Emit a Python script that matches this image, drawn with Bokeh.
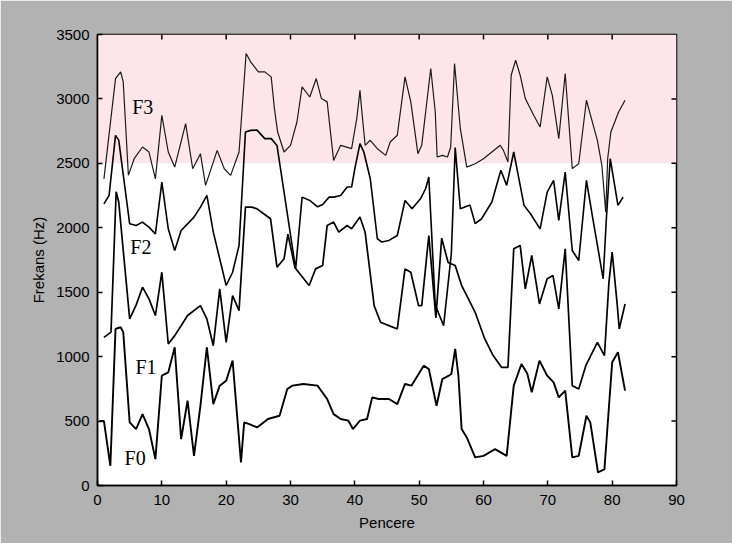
from bokeh.plotting import figure
from bokeh.models import FixedTicker, BoxAnnotation
from bokeh.core.properties import value
from bokeh.embed import file_html
from bokeh.resources import INLINE

# ---- data (x = Pencere, y = Frekans Hz) ----
f0_x = [0.3, 1.0, 2.0, 2.8, 3.6, 4.0, 5.0, 6.0, 7.0, 8.0, 9.0, 10.0, 11.0, 12.0, 13.0, 14.0,
        15.0, 16.0, 17.0, 18.0, 19.0, 20.0, 21.0, 22.3, 22.8, 23.6, 24.8, 26.5, 28.3, 29.5,
        30.3, 32.0, 34.2, 35.7, 36.7, 37.8, 39.0, 39.7, 40.8, 41.9, 42.7, 43.7, 45.3, 46.6,
        47.8, 48.8, 50.7, 51.5, 52.7, 53.6, 54.6, 55.0, 55.6, 56.1, 56.6, 57.4, 58.7, 60.0,
        61.8, 63.6, 64.7, 65.9, 66.8, 67.5, 68.7, 69.9, 70.9, 71.7, 72.7, 73.8, 74.8, 76.0,
        76.6, 77.8, 78.8, 80.0, 80.9, 82.0]
f0_y = [500, 500, 153, 1215, 1228, 1190, 490, 438, 554, 438, 205, 852, 878, 1073, 360, 658,
        230, 620, 1073, 632, 775, 813, 969, 179, 490, 477, 451, 516, 541, 749,
        775, 788, 775, 671, 554, 516, 503, 438, 503, 516, 684, 671, 671, 632,
        788, 775, 930, 904, 619, 826, 852, 865, 1060, 852, 438, 373, 218, 230,
        282, 230, 775, 943, 870, 723, 969, 852, 800, 684, 736, 218, 230, 541,
        490, 101, 127, 956, 1034, 736]

f1_x = [1.0, 2.1, 2.9, 3.3, 5.0, 6.0, 7.0, 8.0, 9.0, 10.0, 11.0, 12.0, 13.0, 14.0, 16.0, 17.0,
        18.0, 19.0, 20.0, 21.0, 22.0, 23.0, 24.0, 24.8, 26.9, 27.9, 29.0, 29.6, 30.7, 32.9,
        33.9, 35.0, 35.7, 36.7, 37.5, 38.8, 39.5, 40.8, 41.6, 43.0, 44.0, 45.3, 46.6, 47.8,
        48.7, 49.9, 50.4, 51.5, 52.6, 53.5, 54.5, 55.6, 56.6, 57.4, 58.7, 60.2, 61.5,
        62.8, 63.8, 64.7, 65.7, 66.5, 67.5, 68.7, 69.9, 70.8, 71.7, 72.7, 73.8, 74.8, 75.9,
        77.7, 78.8, 79.5, 80.0, 80.8, 81.1, 82.0]
f1_y = [1150, 1190, 2280, 2200, 1293, 1400, 1539, 1448, 1319, 1655, 1098, 1163, 1240, 1319, 1396, 1293,
        1085, 1526, 1111, 1474, 1357, 2160, 2160, 2147, 2070, 1694, 1760, 1950, 1690, 1552,
        1681, 1707, 2018, 2044, 1966, 2018, 1992, 2083, 1966, 1396, 1267, 1241, 1215, 1681,
        1655, 1396, 1396, 1939, 1300, 1920, 1730, 1707, 1552, 1474, 1344, 1137, 1008,
        917, 917, 1837, 1863, 1526, 1785, 1409, 1604, 1629, 1370, 1837, 775, 749, 930,
        1111, 1008, 1578, 1811, 1396, 1215, 1409]

f2_x = [1.0, 1.8, 2.8, 3.3, 5.0, 6.0, 7.0, 8.0, 9.0, 10.0, 11.0, 12.0, 13.0, 15.0, 16.0, 17.0,
        18.0, 20.0, 21.0, 22.0, 23.0, 23.8, 24.8, 26.0, 27.0, 27.9, 30.8, 31.8, 33.0, 34.2,
        35.0, 36.0, 36.7, 37.8, 38.8, 39.5, 40.0, 40.8, 41.4, 42.4, 43.5,
        44.2, 45.3, 46.6, 47.8, 48.9, 50.2, 51.0, 51.5, 52.5, 53.8, 55.0, 55.6, 56.4, 57.9, 58.7,
        59.7, 61.3, 62.7, 63.6, 64.7, 65.5, 66.3, 67.3, 68.8, 69.9, 70.9, 71.7, 72.7, 73.8,
        74.8, 76.0, 77.0, 78.6, 79.1, 79.7, 80.9, 81.7]
f2_y = [2186, 2251, 2717, 2680, 2031, 2018, 2044, 2005, 1953, 2355, 1992, 1824, 1979, 2083, 2160, 2251,
        1966, 1552, 1655, 1863, 2743, 2756, 2758, 2692, 2692, 2639, 1681, 2238, 2212, 2163,
        2180, 2238, 2238, 2251, 2316, 2316, 2459, 2653, 2588, 2381, 1915,
        1889, 1902, 1940, 2212, 2147, 2225, 2303, 2394, 1400, 1241, 1800, 2622, 2147, 2176, 2033,
        2070, 2200, 2446, 2329, 2588, 2381, 2174, 2109, 1992, 2277, 2368, 2057, 2432, 1824,
        1746, 2368, 2070, 1604, 2070, 2536, 2174, 2238]

f3_x = [1.0, 2.8, 3.6, 4.0, 4.8, 5.7, 7.0, 8.0, 9.0, 10.0, 11.0, 12.0, 13.7, 14.8, 16.0, 16.8,
        18.6, 19.7, 20.7, 22.0, 23.1, 23.8, 25.0, 26.0, 27.0, 27.5, 28.0, 29.0, 30.0, 31.0,
        31.8, 33.0, 34.0, 34.8, 35.7, 36.7, 37.8, 39.5, 40.3, 40.8, 41.0, 41.6, 42.4, 43.5,
        44.8, 45.5, 46.6, 47.8, 48.7, 49.8, 50.4, 51.8, 52.5, 52.8, 53.6, 54.4, 54.9, 55.5,
        56.4, 57.4, 58.7, 60.0, 61.3, 62.6, 63.1, 63.8, 64.3, 65.0, 65.7, 66.5, 67.8, 68.8,
        69.9, 70.7, 71.7, 72.7, 73.8, 74.8, 76.0, 77.7, 78.4, 79.0, 79.3, 79.8, 81.0, 82.0]
f3_y = [2380, 3158, 3210, 3132, 2407, 2536, 2627, 2588, 2380, 2873, 2588, 2471, 2808, 2458, 2575, 2329,
        2601, 2458, 2407, 2588, 3352, 3288, 3210, 3210, 3171, 2925, 2743, 2588, 2640, 2821,
        3093, 3015, 3158, 3003, 2977, 2523, 2640, 2614, 2847, 3067, 2951, 2640, 2679, 2614,
        2562, 2666, 2718, 3171, 2977, 2575, 2640, 3236, 2899, 2549, 2562, 2549, 2627, 3275,
        2769, 2471, 2497, 2536, 2588, 2640, 2601, 2510, 3184, 3300, 3184, 3003, 2873, 2782,
        3171, 3028, 2692, 3197, 2459, 2497, 2990, 2679, 2484, 2121, 2536, 2743, 2899, 2990]

label_names = ["F0", "F1", "F2", "F3"]
label_x = [4.2, 5.9, 5.1, 5.4]
label_y = [217, 917, 1850, 2937]

x_ticks = [0, 10, 20, 30, 40, 50, 60, 70, 80, 90]
y_ticks = [0, 500, 1000, 1500, 2000, 2500, 3000, 3500]

X_MIN, X_MAX = 0, 90
Y_MIN, Y_MAX = 0, 3500

# ---- figure ----
W, H = 732, 543
LEFT, RIGHT, TOP, BOTTOM = 97, 56, 34, 58
p = figure(width=W, height=H, x_range=(X_MIN, X_MAX), y_range=(Y_MIN, Y_MAX),
           output_backend="svg", toolbar_location=None,
           min_border_left=LEFT, min_border_right=RIGHT, min_border_top=TOP, min_border_bottom=BOTTOM)
p.background_fill_color = "white"
p.border_fill_color = "#b2b2b2"
p.outline_line_color = "black"
p.outline_line_width = 1.5
p.grid.visible = False

# watermark-like pink band in the upper part
p.add_layout(BoxAnnotation(bottom=2500, top=Y_MAX, left=X_MIN, right=X_MAX,
                           fill_color="#fce6ea", fill_alpha=1.0, line_color=None, level="underlay"))

for ax in (p.xaxis[0], p.yaxis[0]):
    ax.major_tick_in = 5
    ax.major_tick_out = 0
    ax.minor_tick_line_color = None
    ax.axis_line_color = "black"
    ax.axis_line_width = 1.5
    ax.major_tick_line_width = 1.5
    ax.major_label_text_font = "Liberation Sans"
    ax.major_label_text_font_size = "15px"
    ax.major_label_text_color = "black"
    ax.axis_label_text_font = "Liberation Sans"
    ax.axis_label_text_font_style = "normal"
    ax.axis_label_text_font_size = "15px"
    ax.axis_label_text_color = "black"

p.xaxis.ticker = FixedTicker(ticks=x_ticks)
p.yaxis.ticker = FixedTicker(ticks=y_ticks)
p.xaxis.axis_label = "Pencere"
p.yaxis.axis_label = "Frekans (Hz)"
p.xaxis.major_label_standoff = 9
p.yaxis.major_label_standoff = 8
p.xaxis.axis_label_standoff = 6
p.yaxis.axis_label_standoff = 6

# inward ticks on the right and top frame edges (5 px long)
plot_w = W - LEFT - RIGHT
plot_h = H - TOP - BOTTOM
tx = 5 * (X_MAX - X_MIN) / plot_w
ty = 5 * (Y_MAX - Y_MIN) / plot_h
inner_y = [t for t in y_ticks if Y_MIN < t < Y_MAX]
inner_x = [t for t in x_ticks if X_MIN < t < X_MAX]
p.segment(x0=[X_MAX] * len(inner_y), y0=inner_y, x1=[X_MAX - tx] * len(inner_y), y1=inner_y,
          line_color="black", line_width=1.5)
p.segment(x0=inner_x, y0=[Y_MAX] * len(inner_x), x1=inner_x, y1=[Y_MAX - ty] * len(inner_x),
          line_color="black", line_width=1.5)

p.line(f3_x, f3_y, line_color="#1a1a1a", line_width=1.2)
p.line(f2_x, f2_y, line_color="black", line_width=1.6)
p.line(f1_x, f1_y, line_color="black", line_width=1.7)
p.line(f0_x, f0_y, line_color="black", line_width=1.9)

p.text(x=label_x, y=label_y, text=label_names, text_font=value("Liberation Serif"),
       text_font_size="20px", text_baseline="middle", text_align="left", text_color="black")

open("out.html", "w").write(file_html(p, INLINE))
